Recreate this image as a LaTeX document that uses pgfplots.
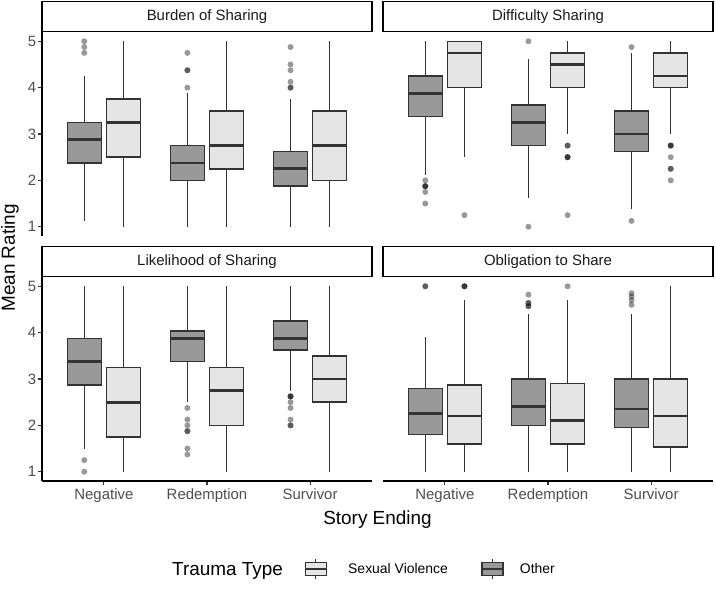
\documentclass[border=0pt]{standalone}
\usepackage{fontspec}
\setmainfont{Liberation Sans}
\usepackage{pgfplots}
\pgfplotsset{compat=1.18}
\usepgfplotslibrary{statistics}
\definecolor{dfill}{HTML}{999999}
\definecolor{lfill}{HTML}{E5E5E5}
\definecolor{edgec}{HTML}{333333}
\definecolor{tickc}{HTML}{4D4D4D}
\newcommand{\bx}[8]{%
\addplot[draw=edgec, fill=#2, line width=1.5bp,
  boxplot prepared={draw position=#1, lower whisker=#3, lower quartile=#4,
    median=#5, upper quartile=#6, upper whisker=#7},
  mark=*, mark size=3bp, mark options={draw opacity=0, line width=0pt, fill=black, fill opacity=0.4}]
  coordinates {#8};}
\pgfplotsset{
  boxplot/draw direction=y,
  boxplot/box extend=0.33,
  boxplot/whisker extend=0,
  boxplot/every whisker/.style={line width=1.5bp},
  boxplot/every box/.style={line width=1.5bp},
  boxplot/every median/.style={line width=2.7bp},
  every axis title shift=0pt,
  panel/.style={
    scale only axis, width=330bp, height=204bp,
    xmin=0.4, xmax=3.6, ymin=0.8, ymax=5.2,
    xtick={1,2,3}, ytick={1,2,3,4,5},
    xticklabels={Negative,Redemption,Survivor},
    tick align=outside, major tick length=4bp,
    every tick/.style={draw=edgec, line width=1.1bp},
    axis line style={line width=1.1bp, draw=black},
    ticklabel style={font=\fontsize{15}{15}\selectfont, text=tickc},
    yticklabel style={inner sep=1.5bp},
    /pgf/number format/assume math mode=true,
    title style={draw=black, line width=1.2bp, minimum width=330bp, minimum height=30bp,
      inner sep=0pt, anchor=south, at={(0.5,1)}, yshift=0bp,
      font=\fontsize{15}{15}\selectfont, text=black!90},
  },
  sv/.style={legend image code/.code={
    \draw[edgec, line width=1.2bp] (10.5bp,-10bp) -- (10.5bp,10bp);
    \filldraw[fill=lfill, draw=edgec, line width=1.2bp] (0bp,-6.5bp) rectangle (21bp,6.5bp);
    \draw[edgec, line width=2bp] (0bp,0bp) -- (21bp,0bp);}},
  ot/.style={legend image code/.code={
    \draw[edgec, line width=1.2bp] (10.5bp,-10bp) -- (10.5bp,10bp);
    \filldraw[fill=dfill, draw=edgec, line width=1.2bp] (0bp,-6.5bp) rectangle (21bp,6.5bp);
    \draw[edgec, line width=2bp] (0bp,0bp) -- (21bp,0bp);}},
}
\begin{document}
\begin{tikzpicture}
\useasboundingbox (0,0) rectangle (716bp,592bp);
% Top-left: Burden of Sharing
\begin{axis}[panel, at={(42bp,356bp)}, anchor=south west,
  axis y line*=left, axis x line=none, title={Burden of Sharing}]
\bx{0.81}{dfill}{1.125}{2.375}{2.875}{3.25}{4.25}{(0,4.75)(0,4.875)(0,5)}
\bx{1.19}{lfill}{1}{2.5}{3.25}{3.75}{5}{}
\bx{1.81}{dfill}{1}{2}{2.375}{2.75}{3.875}{(0,4)(0,4.375)(0,4.375)(0,4.75)}
\bx{2.19}{lfill}{1}{2.25}{2.75}{3.5}{5}{}
\bx{2.81}{dfill}{1}{1.875}{2.25}{2.625}{3.75}{(0,4)(0,4)(0,4.125)(0,4.375)(0,4.5)(0,4.875)}
\bx{3.19}{lfill}{1}{2}{2.75}{3.5}{5}{}
\end{axis}
% Top-right: Difficulty Sharing
\begin{axis}[panel, at={(383bp,356bp)}, anchor=south west,
  axis y line=none, axis x line=none, title={Difficulty Sharing}]
\bx{0.81}{dfill}{2.125}{3.375}{3.875}{4.25}{5}{(0,2)(0,1.875)(0,1.875)(0,1.875)(0,1.75)(0,1.5)}
\bx{1.19}{lfill}{2.5}{4}{4.75}{5}{5}{(0,1.25)}
\bx{1.81}{dfill}{1.625}{2.75}{3.25}{3.625}{4.625}{(0,5)(0,1)}
\bx{2.19}{lfill}{3}{4}{4.5}{4.75}{5}{(0,2.75)(0,2.75)(0,2.5)(0,2.5)(0,2.5)(0,1.25)}
\bx{2.81}{dfill}{1.375}{2.625}{3}{3.5}{4.75}{(0,4.875)(0,1.125)}
\bx{3.19}{lfill}{3}{4}{4.25}{4.75}{5}{(0,2.75)(0,2.75)(0,2.75)(0,2.5)(0,2.25)(0,2.25)(0,2)}
\end{axis}
% Bottom-left: Likelihood of Sharing
\begin{axis}[panel, at={(42bp,111bp)}, anchor=south west,
  axis y line*=left, axis x line*=bottom, title={Likelihood of Sharing}]
\bx{0.81}{dfill}{1.5}{2.875}{3.375}{3.875}{5}{(0,1.25)(0,1)}
\bx{1.19}{lfill}{1}{1.75}{2.5}{3.25}{5}{}
\bx{1.81}{dfill}{2.5}{3.375}{3.875}{4.04}{5}{(0,2.375)(0,2.125)(0,2)(0,1.875)(0,1.875)(0,1.5)(0,1.375)}
\bx{2.19}{lfill}{1}{2}{2.75}{3.25}{5}{}
\bx{2.81}{dfill}{2.75}{3.625}{3.875}{4.25}{5}{(0,2.625)(0,2.625)(0,2.625)(0,2.5)(0,2.375)(0,2.125)(0,2)(0,2)}
\bx{3.19}{lfill}{1}{2.5}{3}{3.5}{5}{}
\end{axis}
% Bottom-right: Obligation to Share
\begin{axis}[panel, at={(383bp,111bp)}, anchor=south west,
  axis y line=none, axis x line*=bottom, title={Obligation to Share}]
\bx{0.81}{dfill}{1}{1.8}{2.25}{2.8}{3.9}{(0,5)(0,5)}
\bx{1.19}{lfill}{1}{1.6}{2.2}{2.875}{4.7}{(0,5)(0,5)(0,5)}
\bx{1.81}{dfill}{1}{2}{2.4}{3}{4.4}{(0,4.82)(0,4.64)(0,4.64)(0,4.57)(0,4.57)}
\bx{2.19}{lfill}{1}{1.6}{2.1}{2.9}{4.7}{(0,5)}
\bx{2.81}{dfill}{1}{1.95}{2.35}{3}{4.4}{(0,4.85)(0,4.78)(0,4.7)(0,4.6)}
\bx{3.19}{lfill}{1}{1.53}{2.2}{3}{5}{}
\end{axis}
% Legend
\begin{axis}[hide axis, scale only axis, width=1bp, height=1bp,
  xmin=0, xmax=1, ymin=0, ymax=1, at={(304bp,22.7bp)}, anchor=west,
  legend columns=2,
  legend style={at={(0,0.5)}, anchor=west, draw=none, fill=none, inner sep=0pt,
    font=\fontsize{14}{14}\selectfont,
    /tikz/every odd column/.append style={column sep=19bp},
    /tikz/every even column/.append style={column sep=31bp}}]
\addlegendimage{sv}
\addlegendentry{Sexual Violence}
\addlegendimage{ot}
\addlegendentry{\hspace{-5bp}Other}
\end{axis}
\node[rotate=90, font=\fontsize{19}{19}\selectfont] at (10bp,334bp) {Mean Rating};
\node[font=\fontsize{19}{19}\selectfont] at (377.5bp,72bp) {Story Ending};
\node[font=\fontsize{19}{19}\selectfont, anchor=west, inner sep=0pt] at (172bp,21bp) {Trauma Type};
\end{tikzpicture}
\end{document}
